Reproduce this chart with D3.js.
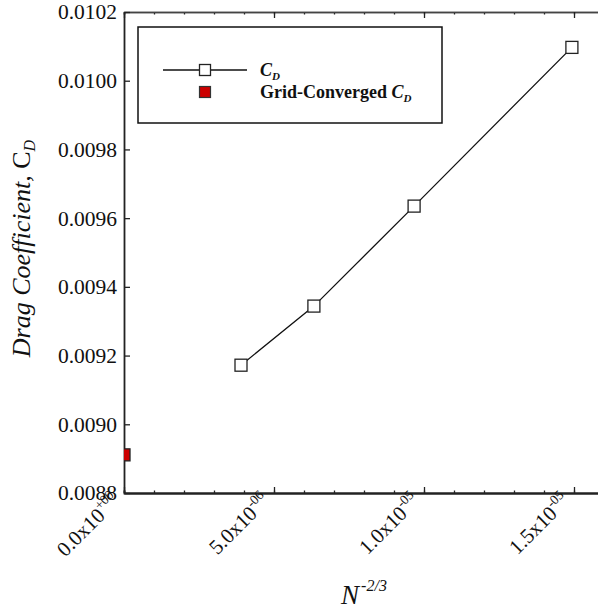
<!DOCTYPE html>
<html>
<head>
<meta charset="utf-8">
<script src="https://cdn.jsdelivr.net/npm/d3@7"></script>
<style>
  html, body { margin: 0; padding: 0; background: #fff; }
  svg { display: block; }
  text { font-family: "Liberation Serif", "Times New Roman", serif; fill: #111; }
</style>
</head>
<body>
<svg id="chart" width="598" height="611"></svg>
<script>
// ---- data ----
const gridX = [3.9e-6, 6.33e-6, 9.67e-6, 1.493e-5];          // N^-2/3
const cdValues = [0.009172, 0.009344, 0.009635, 0.010097];   // C_D
const convergedX = [0];
const convergedCd = [0.008911];
const yTicks = [0.0088, 0.0090, 0.0092, 0.0094, 0.0096, 0.0098, 0.0100, 0.0102];
const xMajorTicks = [0, 5e-6, 1e-5, 1.5e-5];
const xTickMantissa = ["0.0x10", "5.0x10", "1.0x10", "1.5x10"];
const xTickExponent = ["+00", "-06", "-05", "-05"];
const xMinorTicks = d3.range(0, 16).map(i => i * 1e-6);

(function () {
// ---- layout ----
const svg = d3.select("#chart");
const pLeft = 124, pTop = 12, pBottom = 493, pRight = 604;
const x = d3.scaleLinear().domain([0, 1.6e-5]).range([pLeft, pRight]);
const y = d3.scaleLinear().domain([0.0088, 0.0102]).range([pBottom, pTop]);
const axisColor = "#222";

svg.append("defs").append("clipPath").attr("id", "plotclip")
  .append("rect").attr("x", pLeft).attr("y", pTop).attr("width", pRight - pLeft).attr("height", pBottom - pTop);

// minor ticks bottom/top
const gMinB = svg.append("g").attr("transform", `translate(0,${pBottom})`)
  .call(d3.axisBottom(x).tickValues(xMinorTicks).tickSize(-2.5).tickFormat(""));
const gMinT = svg.append("g").attr("transform", `translate(0,${pTop})`)
  .call(d3.axisTop(x).tickValues(xMinorTicks).tickSize(-2.5).tickFormat(""));
// major ticks bottom/top
const gB = svg.append("g").attr("transform", `translate(0,${pBottom})`)
  .call(d3.axisBottom(x).tickValues(xMajorTicks).tickSize(-6).tickSizeOuter(0).tickFormat(""));
const gT = svg.append("g").attr("transform", `translate(0,${pTop})`)
  .call(d3.axisTop(x).tickValues(xMajorTicks).tickSize(-6).tickSizeOuter(0).tickFormat(""));
// left axis
const gL = svg.append("g").attr("transform", `translate(${pLeft},0)`)
  .call(d3.axisLeft(y).tickValues(yTicks).tickSize(-6).tickSizeOuter(0).tickPadding(7)
    .tickFormat(d3.format(".4f")));

[gMinB, gMinT, gB, gT, gL].forEach(g => {
  g.selectAll("path.domain").attr("stroke", axisColor).attr("stroke-width", 1.8);
  g.selectAll(".tick line").attr("stroke", axisColor).attr("stroke-width", 1.3);
});
gMinT.select("path.domain").attr("stroke-width", 1.5).attr("stroke", "#444");
gT.select("path.domain").attr("stroke-width", 1.5).attr("stroke", "#444");
gL.selectAll(".tick text").attr("font-size", 21.5).attr("fill", "#111")
  .style("font-family", '"Liberation Serif", serif');

// x tick labels (rotated, with superscript exponent)
const xl = svg.append("g");
xMajorTicks.forEach((d, i) => {
  const t = xl.append("text")
    .attr("transform", `translate(${x(d) - 3},${pBottom + 9}) rotate(-45)`)
    .attr("text-anchor", "end")
    .attr("font-size", 21);
  t.append("tspan").text(xTickMantissa[i]);
  t.append("tspan").attr("font-size", 13.5).attr("dy", -9).text(xTickExponent[i]);
});

// axis titles
const xt = svg.append("text").attr("x", 364).attr("y", 604).attr("text-anchor", "middle")
  .attr("font-size", 27).attr("font-style", "italic");
xt.append("tspan").text("N");
xt.append("tspan").attr("font-size", 16).attr("dy", -13).attr("dx", 2).text("-2/3");

const yt = svg.append("text")
  .attr("transform", `translate(30,${(pTop + pBottom) / 2 - 4}) rotate(-90)`)
  .attr("text-anchor", "middle").attr("font-size", 26);
yt.append("tspan").attr("font-style", "italic").text("Drag Coefficient, ");
yt.append("tspan").text("C");
yt.append("tspan").attr("font-size", 16).attr("font-style", "italic").attr("dy", 5).text("D");

// plot content
const plot = svg.append("g").attr("clip-path", "url(#plotclip)");
const pts = gridX.map((d, i) => ({ x: d, y: cdValues[i] }));
plot.append("path").datum(pts)
  .attr("fill", "none").attr("stroke", "#111").attr("stroke-width", 1.3)
  .attr("d", d3.line().x(d => x(d.x)).y(d => y(d.y)));
const ms = 12;
plot.selectAll("rect.cd").data(pts).join("rect").attr("class", "cd")
  .attr("x", d => x(d.x) - ms / 2).attr("y", d => y(d.y) - ms / 2)
  .attr("width", ms).attr("height", ms)
  .attr("fill", "#fff").attr("stroke", "#222").attr("stroke-width", 1.3);
const conv = convergedX.map((d, i) => ({ x: d, y: convergedCd[i] }));
plot.selectAll("rect.conv").data(conv).join("rect").attr("class", "conv")
  .attr("x", d => x(d.x) - ms / 2).attr("y", d => y(d.y) - ms / 2)
  .attr("width", ms).attr("height", ms)
  .attr("fill", "#cc0000").attr("stroke", "#222").attr("stroke-width", 1.3);

// legend
const lg = svg.append("g");
lg.append("rect").attr("x", 138).attr("y", 27).attr("width", 304).attr("height", 96)
  .attr("fill", "#fff").attr("stroke", "#111").attr("stroke-width", 1.5);
lg.append("line").attr("x1", 163).attr("x2", 247).attr("y1", 70).attr("y2", 70)
  .attr("stroke", "#111").attr("stroke-width", 1.3);
lg.append("rect").attr("x", 205 - 5.5).attr("y", 70 - 5.5).attr("width", 11).attr("height", 11)
  .attr("fill", "#fff").attr("stroke", "#222").attr("stroke-width", 1.3);
lg.append("rect").attr("x", 205 - 5.5).attr("y", 92 - 5.5).attr("width", 11).attr("height", 11)
  .attr("fill", "#cc0000").attr("stroke", "#333").attr("stroke-width", 1.2);
const l1 = lg.append("text").attr("x", 260).attr("y", 76).attr("font-size", 18).attr("font-weight", "bold");
l1.append("tspan").attr("font-style", "italic").text("C");
l1.append("tspan").attr("font-style", "italic").attr("font-size", 11).attr("dy", 4).text("D");
const l2 = lg.append("text").attr("x", 260).attr("y", 98).attr("font-size", 18).attr("font-weight", "bold");
l2.append("tspan").text("Grid-Converged ");
l2.append("tspan").attr("font-style", "italic").text("C");
l2.append("tspan").attr("font-style", "italic").attr("font-size", 11).attr("dy", 4).text("D");
})();
</script>
</body>
</html>
